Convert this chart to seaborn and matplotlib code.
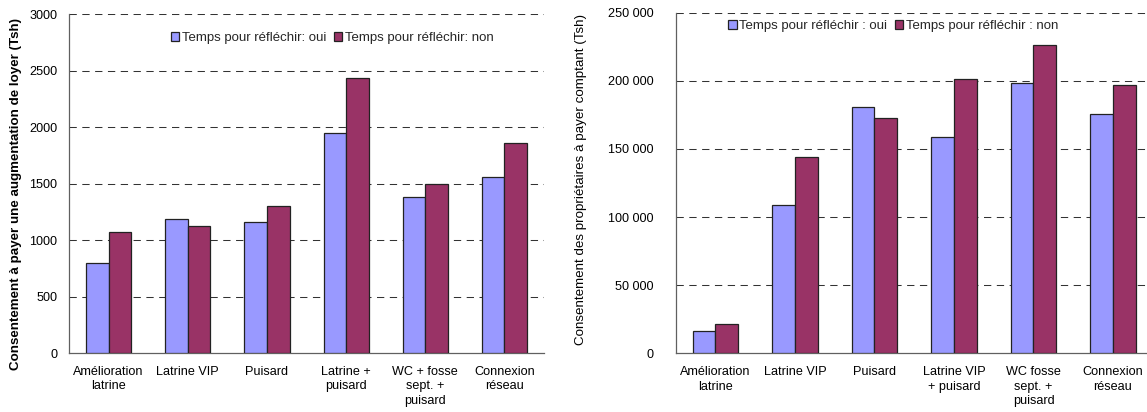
import numpy as np
import pandas as pd
import matplotlib
matplotlib.use("Agg")
import matplotlib.pyplot as plt
import seaborn as sns

# ---- data ----
left_categories = ["Amélioration\nlatrine", "Latrine VIP", "Puisard",
                   "Latrine +\npuisard", "WC + fosse\nsept. +\npuisard", "Connexion\nréseau"]
left_oui = [795, 1190, 1160, 1950, 1380, 1555]
left_non = [1068, 1120, 1300, 2430, 1492, 1855]
left_series = ["Temps pour réfléchir: oui", "Temps pour réfléchir: non"]
left_yticks = [0, 500, 1000, 1500, 2000, 2500, 3000]
left_ylabel = "Consentement à payer une augmentation de loyer (Tsh)"

right_categories = ["Amélioration\nlatrine", "Latrine VIP", "Puisard",
                    "Latrine VIP\n+ puisard", "WC fosse\nsept. +\npuisard", "Connexion\nréseau"]
right_oui = [16000, 109000, 181000, 158500, 198500, 176000]
right_non = [21500, 144000, 173000, 201000, 226000, 197000]
right_series = ["Temps pour réfléchir : oui", "Temps pour réfléchir : non"]
right_yticks = [0, 50000, 100000, 150000, 200000, 250000]
right_ylabel = "Consentement des propriétaires à payer comptant (Tsh)"

colors = ["#9999FF", "#993366"]

sns.set_theme(style="white")
plt.rcParams['font.family'] = ['Liberation Sans', 'DejaVu Sans']
FS = 9.1
FS_LAB = 9.6

fig = plt.figure(figsize=(11.47, 4.12), dpi=100)
axL = fig.add_axes([0.0602, 0.1432, 0.4141, 0.8228])
axR = fig.add_axes([0.5891, 0.1425, 0.4159, 0.8267])


def make_df(cats, oui, non, series):
    return pd.DataFrame({
        "cat": cats * 2,
        "val": list(oui) + list(non),
        "serie": [series[0]] * len(cats) + [series[1]] * len(cats),
    })


def draw(ax, cats, oui, non, series, yticks, ylabel, bold, fmt, legend_xy,
         ylabel_x, ylabel_y, ypad):
    df = make_df(cats, oui, non, series)
    sns.barplot(data=df, x="cat", y="val", hue="serie", order=cats, hue_order=series,
                palette=colors, width=0.57, gap=0, edgecolor="#222222", linewidth=0.9,
                saturation=1, ax=ax, zorder=3)
    ax.set_ylim(yticks[0], yticks[-1])
    ax.set_xlim(-0.5, len(cats) - 0.5)
    ax.set_yticks(yticks)
    ax.set_yticklabels([fmt(v) for v in yticks], fontsize=FS, color="black")
    ax.set_xticks(range(len(cats)))
    ax.set_xticklabels(cats, fontsize=FS, color="black", linespacing=1.25)
    ax.set_xticks(np.arange(-0.5, len(cats)), minor=True)
    ax.tick_params(axis="x", which="major", length=0, pad=9.5)
    ax.tick_params(axis="x", which="minor", length=4, width=0.8, color="#606060", direction="out")
    ax.tick_params(axis="y", which="major", length=4, width=0.8, color="#606060",
                   direction="out", pad=ypad)
    ax.set_xlabel("")
    ax.set_ylabel(ylabel, fontsize=FS_LAB, fontweight="bold" if bold else "normal", color="black")
    ax.yaxis.set_label_coords(ylabel_x, ylabel_y)
    for s in ["top", "right"]:
        ax.spines[s].set_visible(False)
    for s in ["left", "bottom"]:
        ax.spines[s].set_color("#606060")
        ax.spines[s].set_linewidth(0.9)
    for y in yticks[1:]:
        ax.axhline(y, color="#333333", lw=0.75, dashes=(7, 5.3), zorder=1)
    ax.grid(False)
    handles, labels = ax.get_legend_handles_labels()
    ax.legend(handles, labels, loc="center", bbox_to_anchor=legend_xy, ncol=2, frameon=False,
              fontsize=9.5, handlelength=0.65, handleheight=0.65, handletextpad=0.2,
              columnspacing=0.55, borderaxespad=0)


draw(axL, left_categories, left_oui, left_non, left_series, left_yticks, left_ylabel, True,
     lambda v: f"{v:d}", (0.554, 0.929), -0.099, 0.47, 4.3)
draw(axR, right_categories, right_oui, right_non, right_series, right_yticks, right_ylabel, False,
     lambda v: f"{v:,d}".replace(",", " "), (0.456, 0.961), -0.186, 0.51, 12)

fig.savefig("out.png", dpi=100)
